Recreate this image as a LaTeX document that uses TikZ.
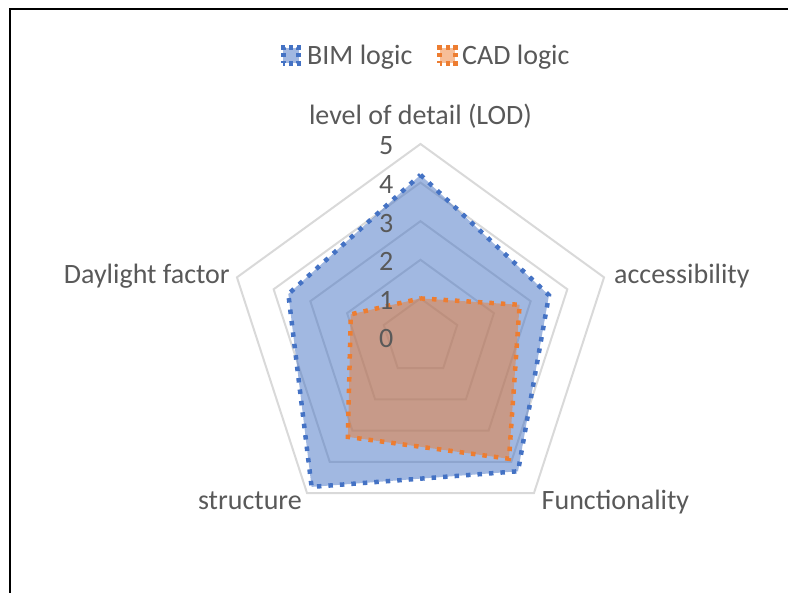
\documentclass[tikz,border=0pt]{standalone}
\usepackage{fontspec}
\setmainfont{Carlito}
\usepackage{tikz}

\definecolor{bimblue}{HTML}{4472C4}
\definecolor{cadorange}{HTML}{ED7D31}
\definecolor{gridgray}{HTML}{D9D9D9}
\definecolor{labelgray}{HTML}{595959}
\newcommand{\stepr}{38.6}

\begin{document}
\begin{tikzpicture}[x=1pt, y=1pt,
  gridline/.style={gridgray, line width=2pt, line join=miter},
  seriesline/.style={line width=4.5pt, dash pattern=on 4.5pt off 7pt, line join=miter},
  keybox/.style={rectangle, minimum size=15.5pt, inner sep=0pt, line width=5pt,
    dash pattern=on 4pt off 3.75pt, dash phase=2pt},
  lbl/.style={text=labelgray, font=\fontsize{28}{34}\selectfont, inner sep=0pt}]
  \useasboundingbox (-420.5, -256) rectangle (367.5, 337);
  % chart frame, cut at right and bottom
  \draw[line width=2pt] (-410.5, -256) -- (-410.5, 328) -- (367.5, 328);
  % grid
  \foreach \r in {1,...,5}
    \draw[gridline] (90:{\r*\stepr}) -- (18:{\r*\stepr}) -- (-54:{\r*\stepr})
      -- (-126:{\r*\stepr}) -- (162:{\r*\stepr}) -- cycle;
  % BIM logic
  \fill[bimblue, fill opacity=0.5] (90:{4.2*\stepr}) -- (18:{3.5*\stepr})
    -- (-54:{4.3*\stepr}) -- (-126:{4.8*\stepr}) -- (162:{3.6*\stepr}) -- cycle;
  \draw[seriesline, bimblue] (90:{4.2*\stepr}) -- (18:{3.5*\stepr})
    -- (-54:{4.3*\stepr}) -- (-126:{4.8*\stepr}) -- (162:{3.6*\stepr}) -- cycle;
  % CAD logic
  \fill[cadorange, fill opacity=0.5] (90:{1.0*\stepr}) -- (18:{2.7*\stepr})
    -- (-54:{3.9*\stepr}) -- (-126:{3.2*\stepr}) -- (162:{1.9*\stepr}) -- cycle;
  \draw[seriesline, cadorange] (90:{1.0*\stepr}) -- (18:{2.7*\stepr})
    -- (-54:{3.9*\stepr}) -- (-126:{3.2*\stepr}) -- (162:{1.9*\stepr}) -- cycle;
  % scale values
  \foreach \v in {0,...,5}
    \node[lbl, anchor=base east] (tick\v) at (-27, {\v*\stepr-11}) {\v};
  % axis labels
  \node[lbl, anchor=base] (lod) at (0, 212) {level of detail (LOD)};
  \node[lbl, anchor=base west] (access) at (193.5, 53.7) {accessibility};
  \node[lbl, anchor=base west] (funct) at (121, -173) {Functionality};
  \node[lbl, anchor=base east] (struct) at (-118.5, -173) {structure};
  \node[lbl, anchor=base east] (daylight) at (-190.5, 53.7) {Daylight factor};
  % legend
  \node[keybox, draw=bimblue, fill=bimblue!50] (bimkey) at (-129.5, 281.5) {};
  \node[lbl, anchor=base west] (bimtext) at (-113.5, 272) {BIM logic};
  \node[keybox, draw=cadorange, fill=cadorange!50] (cadkey) at (27.2, 281.5) {};
  \node[lbl, anchor=base west] (cadtext) at (41.5, 272) {CAD logic};
\end{tikzpicture}
\end{document}
